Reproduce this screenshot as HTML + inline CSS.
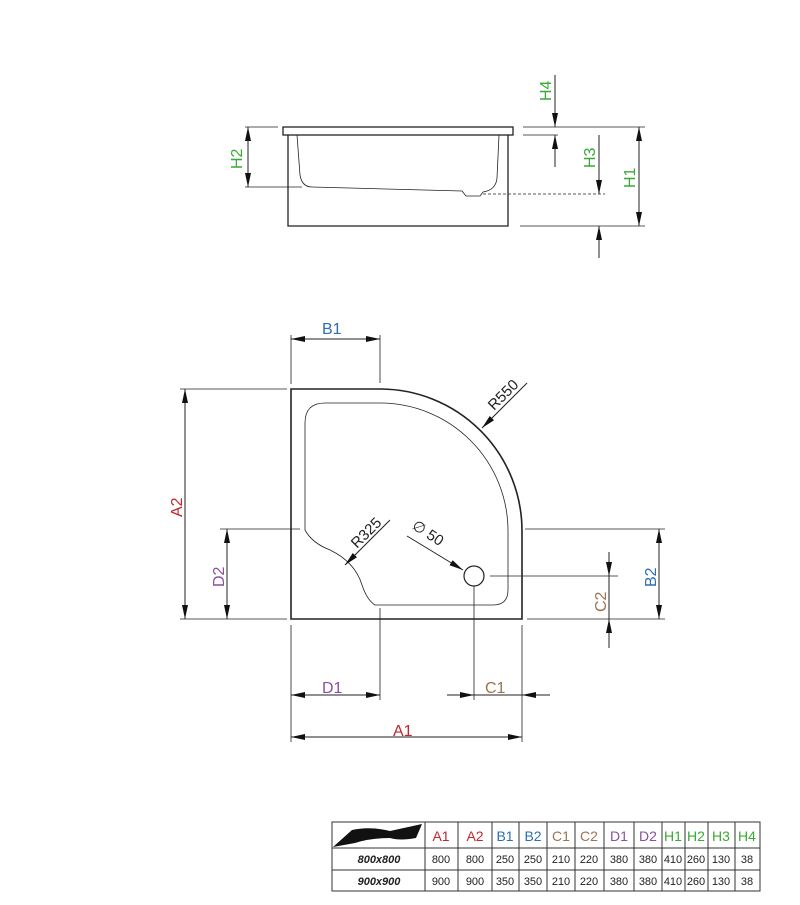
<!DOCTYPE html>
<html><head><meta charset="utf-8"><style>
html,body{margin:0;padding:0;background:#fff;width:800px;height:905px;overflow:hidden}
svg{display:block}
text{font-family:"Liberation Sans",sans-serif}
</style></head><body>
<svg width="800" height="905" viewBox="0 0 800 905" xmlns="http://www.w3.org/2000/svg">
<defs>
<marker id="a" markerUnits="userSpaceOnUse" markerWidth="14" markerHeight="6" refX="14" refY="3" orient="auto-start-reverse"><path d="M0,0 L14,3 L0,6 z" fill="#111"/></marker>
</defs>
<g stroke="#222" stroke-width="1" fill="none">
<rect x="283" y="127" width="230" height="8" stroke-width="1.3"/>
<path d="M288,135 V226 H508 V135" stroke-width="1.3"/>
<path d="M297,135 L300,175 Q302,187 312,187 L462,191 L466,196 L480,196 L483,192 Q496,190 497,178 L499,135" stroke-width="0.8"/>
<line x1="483" y1="194" x2="605" y2="194" stroke-dasharray="3,2" stroke-width="0.8"/>
<line x1="245" y1="127" x2="278" y2="127" stroke-width="0.8"/>
<line x1="245" y1="187" x2="302" y2="187" stroke-width="0.8"/>
<line x1="248" y1="127" x2="248" y2="187" marker-start="url(#a)" marker-end="url(#a)"/>
<line x1="523" y1="127" x2="645" y2="127" stroke-width="0.8"/>
<line x1="523" y1="135" x2="558" y2="135" stroke-width="0.8"/>
<line x1="555" y1="75" x2="555" y2="127" marker-end="url(#a)"/>
<line x1="555" y1="167" x2="555" y2="135" marker-end="url(#a)"/>
<line x1="599" y1="135" x2="599" y2="194" marker-end="url(#a)"/>
<line x1="599" y1="258" x2="599" y2="226" marker-end="url(#a)"/>
<line x1="520" y1="226" x2="645" y2="226" stroke-width="0.8"/>
<line x1="639" y1="127" x2="639" y2="226" marker-start="url(#a)" marker-end="url(#a)"/>

<path d="M291,389 H380 A142,142 0 0 1 522,531 V619 H291 Z" stroke-width="1.6"/>
<path d="M325,403 H380 A128,128 0 0 1 508,531 V590 Q508,605 493,605 H375 Q367,600 362,585 Q355,562 330,550 Q312,543 305,530 V423 Q305,403 325,403 Z" stroke-width="0.8"/>
<circle cx="474" cy="576" r="10" stroke-width="1.2"/>
<line x1="490" y1="576" x2="618" y2="576" stroke-width="0.8"/>
<line x1="474" y1="586" x2="474" y2="700" stroke-width="0.8"/>
<line x1="291" y1="335" x2="291" y2="384" stroke-width="0.8"/>
<line x1="380" y1="335" x2="380" y2="383" stroke-width="0.8"/>
<line x1="291" y1="339" x2="380" y2="339" marker-start="url(#a)" marker-end="url(#a)"/>
<line x1="180" y1="389" x2="287" y2="389" stroke-width="0.8"/>
<line x1="180" y1="619" x2="287" y2="619" stroke-width="0.8"/>
<line x1="185" y1="389" x2="185" y2="619" marker-start="url(#a)" marker-end="url(#a)"/>
<line x1="220" y1="529" x2="300" y2="529" stroke-width="0.8"/>
<line x1="227" y1="529" x2="227" y2="619" marker-start="url(#a)" marker-end="url(#a)"/>
<line x1="525" y1="529" x2="665" y2="529" stroke-width="0.8"/>
<line x1="527" y1="619" x2="665" y2="619" stroke-width="0.8"/>
<line x1="659" y1="529" x2="659" y2="619" marker-start="url(#a)" marker-end="url(#a)"/>
<line x1="609" y1="552" x2="609" y2="576" marker-end="url(#a)"/>
<line x1="609" y1="648" x2="609" y2="619" marker-end="url(#a)"/>
<line x1="609" y1="576" x2="609" y2="619"/>
<line x1="291" y1="625" x2="291" y2="742" stroke-width="0.8"/>
<line x1="380" y1="608" x2="380" y2="700" stroke-width="0.8"/>
<line x1="291" y1="695" x2="380" y2="695" marker-start="url(#a)" marker-end="url(#a)"/>
<line x1="522" y1="625" x2="522" y2="742" stroke-width="0.8"/>
<line x1="447" y1="695" x2="474" y2="695" marker-end="url(#a)"/>
<line x1="550" y1="695" x2="522" y2="695" marker-end="url(#a)"/>
<line x1="474" y1="695" x2="522" y2="695"/>
<line x1="291" y1="737" x2="522" y2="737" marker-start="url(#a)" marker-end="url(#a)"/>
<line x1="527" y1="383" x2="482" y2="428" marker-end="url(#a)"/>
<line x1="390" y1="520" x2="345" y2="565" marker-end="url(#a)"/>
<line x1="407" y1="536" x2="463" y2="570" marker-end="url(#a)"/>
</g>
<g font-size="16">
<text x="0" y="0" fill="#3aaa35" transform="translate(242,169) rotate(-90)">H2</text>
<text x="0" y="0" fill="#3aaa35" transform="translate(551,101) rotate(-90)">H4</text>
<text x="0" y="0" fill="#3aaa35" transform="translate(595,168) rotate(-90)">H3</text>
<text x="0" y="0" fill="#3aaa35" transform="translate(635,188) rotate(-90)">H1</text>
<text x="322" y="334" fill="#2e6db4">B1</text>
<text x="0" y="0" fill="#c0272d" transform="translate(182,517) rotate(-90)">A2</text>
<text x="0" y="0" fill="#8b4fa0" transform="translate(224,587) rotate(-90)">D2</text>
<text x="0" y="0" fill="#2e6db4" transform="translate(656,587) rotate(-90)">B2</text>
<text x="0" y="0" fill="#9a7550" transform="translate(606,612) rotate(-90)">C2</text>
<text x="322" y="693" fill="#8b4fa0">D1</text>
<text x="485" y="693" fill="#9a7550">C1</text>
<text x="393" y="736" fill="#c0272d">A1</text>
<text x="0" y="0" fill="#222" font-size="15" transform="translate(494,411) rotate(-45)">R550</text>
<text x="0" y="0" fill="#222" font-size="15" transform="translate(357,549) rotate(-45)">R325</text>
<text x="0" y="0" fill="#222" font-size="15" transform="translate(411,528) rotate(33)">∅ 50</text>
</g>
<g stroke="#333" stroke-width="1" fill="none">
<rect x="332" y="822" width="428" height="69"/>
<line x1="332" y1="848" x2="760" y2="848"/>
<line x1="332" y1="870" x2="760" y2="870"/>
<line x1="425" y1="822" x2="425" y2="891"/>
<line x1="458" y1="822" x2="458" y2="891"/>
<line x1="492" y1="822" x2="492" y2="891"/>
<line x1="519" y1="822" x2="519" y2="891"/>
<line x1="547" y1="822" x2="547" y2="891"/>
<line x1="575" y1="822" x2="575" y2="891"/>
<line x1="604" y1="822" x2="604" y2="891"/>
<line x1="634" y1="822" x2="634" y2="891"/>
<line x1="662" y1="822" x2="662" y2="891"/>
<line x1="685" y1="822" x2="685" y2="891"/>
<line x1="708" y1="822" x2="708" y2="891"/>
<line x1="735" y1="822" x2="735" y2="891"/>
</g>
<path d="M333,847 L352,830 Q370,826 390,831 L422,824 L416,838 Q400,841 390,838 Q370,838 355,843 Z" fill="#111"/>
<g font-size="14" text-anchor="middle">
<text x="441" y="841" fill="#c0272d">A1</text><text x="475" y="841" fill="#c0272d">A2</text>
<text x="505" y="841" fill="#2e6db4">B1</text><text x="533" y="841" fill="#2e6db4">B2</text>
<text x="561" y="841" fill="#9a7550">C1</text><text x="589" y="841" fill="#9a7550">C2</text>
<text x="619" y="841" fill="#8b4fa0">D1</text><text x="648" y="841" fill="#8b4fa0">D2</text>
<text x="673" y="841" fill="#3aaa35">H1</text><text x="696" y="841" fill="#3aaa35">H2</text>
<text x="721" y="841" fill="#3aaa35">H3</text><text x="747" y="841" fill="#3aaa35">H4</text>
</g>
<g font-size="11" text-anchor="middle" fill="#222">
<text x="379" y="863" font-weight="bold" font-style="italic">800x800</text>
<text x="441" y="863">800</text><text x="475" y="863">800</text><text x="505" y="863">250</text><text x="533" y="863">250</text><text x="561" y="863">210</text><text x="589" y="863">220</text><text x="619" y="863">380</text><text x="648" y="863">380</text><text x="673" y="863">410</text><text x="696" y="863">260</text><text x="721" y="863">130</text><text x="747" y="863">38</text>
<text x="379" y="885" font-weight="bold" font-style="italic">900x900</text>
<text x="441" y="885">900</text><text x="475" y="885">900</text><text x="505" y="885">350</text><text x="533" y="885">350</text><text x="561" y="885">210</text><text x="589" y="885">220</text><text x="619" y="885">380</text><text x="648" y="885">380</text><text x="673" y="885">410</text><text x="696" y="885">260</text><text x="721" y="885">130</text><text x="747" y="885">38</text>
</g>
</svg>
</body></html>
